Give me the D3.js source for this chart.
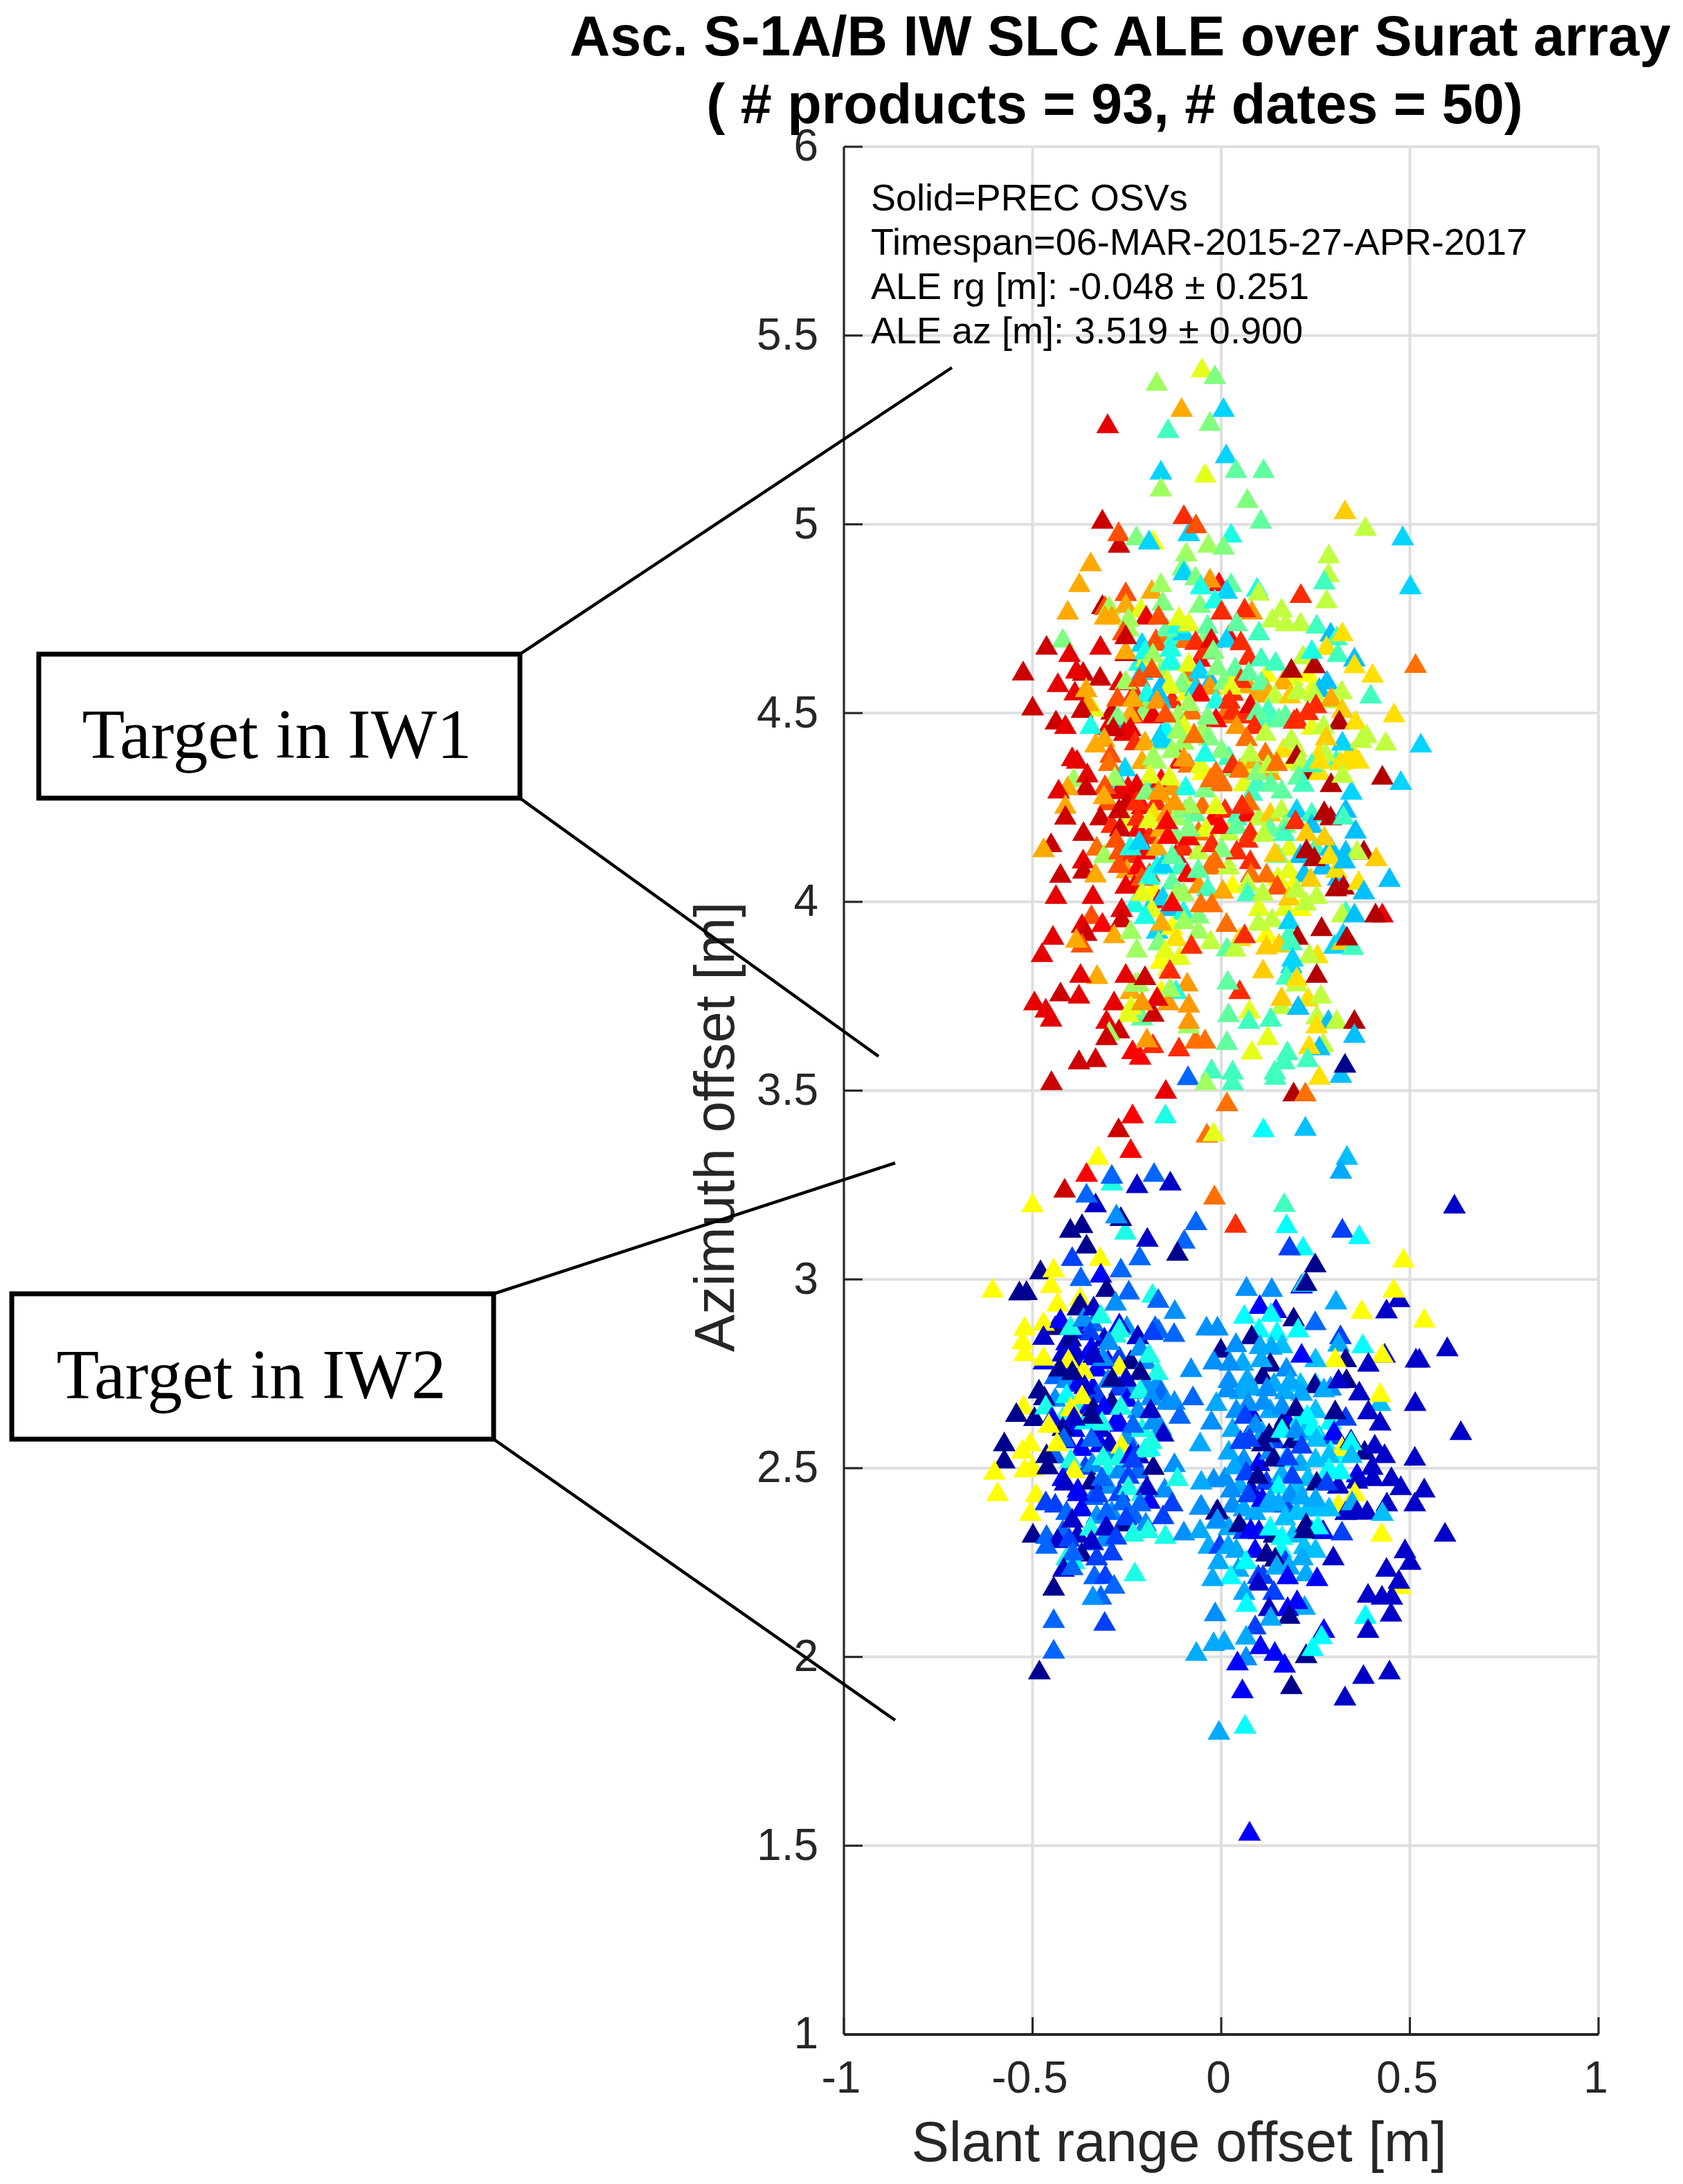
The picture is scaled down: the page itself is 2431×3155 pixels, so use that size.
<!DOCTYPE html>
<html>
<head>
<meta charset="utf-8">
<script src="https://cdn.jsdelivr.net/npm/d3@7"></script>
<style>
  html, body { margin: 0; background: #fff; }
  text { font-family: "Liberation Sans", Arial, sans-serif; }
</style>
</head>
<body>
<svg id="chart" width="2431" height="3155"></svg>
<script>
const xTicks = [-1, -0.5, 0, 0.5, 1];
const yTicks = [1, 1.5, 2, 2.5, 3, 3.5, 4, 4.5, 5, 5.5, 6];
const titleLines = ["Asc. S-1A/B IW SLC ALE over Surat array", "( # products = 93, # dates = 50)"];
const noteLines = ["Solid=PREC OSVs", "Timespan=06-MAR-2015-27-APR-2017", "ALE rg [m]: -0.048 ± 0.251", "ALE az [m]: 3.519 ± 0.900"];

// jet bins, low to high
const jetBins = ["#00008f", "#0000c8", "#0000ff", "#0040ff", "#0066ff", "#0090ff", "#00aaff", "#00c0ff", "#00d4ff", "#00ffff",
  "#1affe5", "#40ffbf", "#60ffa0", "#80ff80", "#a0ff60", "#c0ff40", "#e5ff1a", "#ffff00", "#ffe000", "#ffcc00",
  "#ffaa00", "#ff9900", "#ff7000", "#ff5000", "#ff2a00", "#ff0000", "#e60000", "#cc0000", "#b30000"];

// partly hidden marks in the dense parts, drawn first
// [slant range, azimuth, colour bin]
const iw1Core = [
  [-.173,4.69,23],[-.155,4.7,22],[-.13,4.69,11],[-.094,4.69,22],[-.101,4.71,8],[-.144,4.72,12],[-.21,4.68,8],[.02,4.7,25],[.1,4.71,11],[-.04,4.7,13],
  [-.217,4.63,10],[-.199,4.64,16],[-.159,4.61,14],[-.137,4.63,11],[-.057,4.64,25],[-.043,4.66,24],[-.086,4.6,22],[.03,4.6,17],[.12,4.6,17],[.19,4.59,16],
  [-.144,4.58,16],[-.159,4.57,7],[-.101,4.58,14],[-.028,4.58,7],[.03,4.55,24],[.073,4.57,20],[.095,4.55,20],[.12,4.56,20],[.164,4.58,20],[.24,4.56,16],
  [.28,4.58,7],[.23,4.6,17],[-.23,4.55,24],[-.21,4.52,24],[-.2,4.51,13],[-.187,4.5,14],[-.13,4.53,24],[-.09,4.55,17],[-.07,4.56,15],[-.16,4.53,8],
  [-.181,4.49,26],[-.159,4.44,8],[-.145,4.45,9],[-.115,4.49,14],[-.234,4.49,24],[-.27,4.46,8],[-.29,4.5,27],[-.3,4.46,26],[-.079,4.5,22],[.008,4.49,22],
  [-.014,4.48,25],[.03,4.5,24],[.062,4.49,24],[.1,4.48,11],[.13,4.48,11],[.17,4.49,12],[.2,4.48,24],[.24,4.46,16],[.3,4.53,15],[.26,4.56,7],
  [-.072,4.44,22],[-.05,4.45,14],[-.1,4.42,14],[-.159,4.42,14],[-.11,4.37,25],[-.086,4.36,22],[-.05,4.34,17],[-.014,4.34,22],[0,4.31,22],[.02,4.38,11],
  [.037,4.35,13],[.06,4.35,16],[.095,4.31,11],[.06,4.31,16],[.13,4.34,20],[.19,4.37,16],[.225,4.34,28],[.26,4.34,18],[.305,4.37,11],[.347,4.39,18],
  [.33,4.37,18],[.26,4.39,18],[.2,4.4,15],[.165,4.4,18],[.117,4.39,22],[.088,4.37,20],[-.255,4.35,8],[-.276,4.32,8],[-.247,4.3,25],[-.232,4.29,25],
  [-.188,4.31,8],[-.159,4.32,25],[-.159,4.28,20],[-.13,4.3,21],[-.094,4.3,10],[-.21,4.25,25],[-.173,4.26,24],[-.27,4.29,26],[-.25,4.26,27],[-.3,4.26,23],
  [-.18,4.23,18],[-.145,4.23,21],[-.12,4.22,14],[-.095,4.24,13],[-.07,4.23,12],[-.05,4.25,22],[-.02,4.22,25],[.01,4.24,24],[.04,4.22,11],[.07,4.23,25],
  [.1,4.22,15],[.13,4.23,19],[.16,4.24,15],[.2,4.24,8],[.24,4.23,11],[.29,4.22,28],[.33,4.24,7],[.24,4.2,7],[.17,4.2,13],[.13,4.19,12],
  [-.32,4.22,27],[-.29,4.2,24],[-.25,4.21,16],[-.22,4.19,25],[-.19,4.17,24],[-.16,4.19,20],[-.12,4.17,13],[-.06,4.18,22],[-.04,4.19,16],[.02,4.18,15],
  [-.33,4.14,22],[-.31,4.12,14],[-.27,4.13,23],[-.24,4.12,24],[-.2,4.13,25],[-.17,4.14,20],[-.12,4.12,25],[-.1,4.14,24],[-.06,4.13,15],[.18,4.14,16],
  [.15,4.12,13],[.21,4.12,7],[.25,4.14,11],[.29,4.14,7],[.33,4.13,7],[-.25,4.08,20],[-.22,4.09,25],[-.19,4.07,23],[-.17,4.09,10],[-.11,4.09,11],
  [-.09,4.07,25],[-.03,4.09,22],[.02,4.09,15],[.18,4.08,16],[.22,4.07,7],[.27,4.09,7],[.31,4.06,7],[-.23,4.04,25],[-.18,4.03,17],[-.13,4.05,12],
  [-.1,4.02,14],[-.06,4.04,21],[.03,4.04,17],[.15,4.06,16],[.19,4.04,17],[-.23,3.99,10],[-.19,3.98,8],[-.165,4,25],[-.14,3.98,7],[-.1,3.97,10],
  [-.06,3.96,13],[.1,3.98,16],[.17,3.98,16],[.21,3.98,17],[.33,3.97,11],[-.17,3.92,8],[-.13,3.93,17],[-.12,3.9,18],[-.06,3.92,14],[.12,3.91,17],
  [.05,3.9,18],[.18,3.91,11],[.3,3.88,8],[.32,3.89,19],[-.16,3.84,17],[-.14,3.82,16],[-.11,3.85,16],[-.09,3.78,21],[-.16,3.76,17],[-.12,3.76,10],
  [-.14,3.73,21],[-.24,3.76,20],[-.22,3.78,14],[-.21,3.69,12],[-.18,3.7,27],[.2,3.78,15],[.23,3.74,18],[.16,3.72,15],[.27,3.62,15]
];
const iw2Core = [
  [-.44,2.87,0],[-.41,2.83,2],[-.37,2.86,2],[-.34,2.88,4],[-.31,2.84,1],[-.28,2.85,10],[-.25,2.87,5],[-.42,2.8,1],[-.39,2.78,0],[-.36,2.79,2],
  [-.33,2.76,2],[-.3,2.78,2],[-.27,2.79,3],[-.24,2.78,0],[-.2,2.78,5],[-.44,2.74,4],[-.41,2.73,5],[-.38,2.72,2],[-.34,2.71,2],[-.3,2.73,5],
  [-.27,2.71,3],[-.24,2.7,5],[-.2,2.72,5],[-.17,2.72,5],[-.44,2.68,5],[-.41,2.69,9],[-.38,2.67,10],[-.35,2.66,2],[-.33,2.69,3],[-.29,2.67,0],
  [-.25,2.68,2],[-.22,2.65,5],[-.42,2.63,10],[-.39,2.6,2],[-.36,2.62,9],[-.32,2.6,1],[-.28,2.62,2],[-.25,2.58,5],[-.21,2.6,10],[-.18,2.62,5],
  [-.41,2.57,2],[-.37,2.55,2],[-.32,2.56,2],[-.29,2.54,5],[-.26,2.53,10],[-.22,2.53,1],[-.19,2.55,9],[-.44,2.53,4],[-.4,2.5,4],[-.36,2.5,3],
  [-.3,2.49,10],[-.27,2.49,5],[-.22,2.49,4],[-.18,2.5,0],[-.42,2.47,2],[-.38,2.44,2],[-.34,2.42,4],[-.3,2.45,5],[-.27,2.43,3],[-.21,2.43,10],
  [-.19,2.41,2],[-.15,2.44,5],[-.44,2.4,3],[-.41,2.38,4],[-.37,2.39,2],[-.33,2.37,5],[-.29,2.38,5],[-.26,2.35,0],[-.23,2.37,4],[-.2,2.35,5],
  [-.42,2.33,4],[-.38,2.32,1],[-.34,2.3,3],[-.31,2.31,5],[-.37,2.27,0],[-.33,2.26,3],[-.41,2.26,10],[-.39,2.25,9],
  [.02,2.73,5],[.05,2.7,6],[.08,2.71,6],[.11,2.74,0],[.14,2.72,6],[.17,2.7,6],[.21,2.72,7],[.25,2.72,7],[.29,2.71,5],[.04,2.65,5],
  [.08,2.64,2],[.13,2.65,6],[.17,2.63,2],[.21,2.63,9],[.25,2.65,7],[.29,2.62,9],[.33,2.63,3],[.03,2.6,6],[.07,2.58,3],[.11,2.59,6],
  [.14,2.57,3],[.19,2.57,0],[.22,2.59,7],[.26,2.58,7],[.3,2.58,3],[.02,2.54,6],[.06,2.52,5],[.1,2.51,2],[.13,2.54,5],[.17,2.52,9],
  [.21,2.51,6],[.25,2.52,7],[.29,2.54,9],[.33,2.54,9],[.38,2.54,0],[.01,2.47,5],[.05,2.45,6],[.08,2.44,1],[.12,2.46,3],[.16,2.48,6],
  [.2,2.45,7],[.23,2.47,7],[.27,2.47,9],[.31,2.45,1],[.36,2.48,2],[.4,2.5,1],[.03,2.4,5],[.06,2.39,6],[.09,2.38,6],[.12,2.4,6],
  [.17,2.4,3],[.2,2.38,7],[.23,2.39,7],[.26,2.39,7],[.31,2.4,17],[.33,2.38,1],[.02,2.34,6],[.06,2.33,3],[.1,2.33,2],[.14,2.32,0],
  [.19,2.32,7],[.24,2.33,7],[.27,2.33,2],[.04,2.28,6],[.09,2.28,2],[.12,2.27,0],[.16,2.28,9],[.22,2.29,7],[.25,2.28,7],[.17,2.25,3]
];

const iw1Top = [
  [-.051,5.407,16],[-.017,5.389,13],[-.171,5.371,14],[-.105,5.302,20],[.006,5.302,8],[-.301,5.259,26],[-.141,5.246,11],[-.03,5.265,13],
  [.013,5.179,8],[-.16,5.136,8],[-.043,5.128,16],[.039,5.14,12],[.112,5.14,12],[-.16,5.091,14],[.069,5.061,13],[-.315,5.006,27],
  [-.086,4.973,8],[-.099,5.018,24],[-.067,4.994,23],[.328,5.031,19],[.105,5.006,12],[.382,4.987,15],[.481,4.962,8],[-.271,4.942,27],
  [-.272,4.973,23],[-.225,4.962,13],[-.18,4.951,17],[-.191,4.951,8],[.026,4.969,10],[-.034,4.942,14],[.006,4.937,13],[-.093,4.919,14],
  [.285,4.914,15],[-.346,4.893,20],[-.102,4.882,13],[-.099,4.869,8],[.284,4.864,15]
];
const iw1Upper = [
  [-.068,4.856,13],[.026,4.838,12],[-.006,4.84,25],[-.03,4.85,21],[-.376,4.838,20],[.273,4.845,11],[.501,4.832,8],[-.184,4.82,20],[-.16,4.838,14],
  [-.253,4.814,23],[-.054,4.832,10],[.095,4.826,10],[.014,4.82,8],[.099,4.815,15],[.211,4.809,24],[.279,4.795,15],[-.155,4.789,13],
  [-.407,4.765,20],[-.315,4.78,28],[-.308,4.777,23],[-.297,4.777,14],[-.253,4.783,20],[-.057,4.783,13],[-.017,4.795,10],[.001,4.765,24],
  [.081,4.765,21],[.062,4.771,24],[-.213,4.771,16],[-.199,4.752,26],[-.166,4.752,23],[-.308,4.752,20],[-.29,4.752,20],[-.246,4.746,14],
  [-.246,4.72,14],[-.115,4.728,10],[-.086,4.734,16],[-.112,4.749,16],[-.036,4.728,12],[.041,4.734,12],[.16,4.771,15],[.135,4.744,15],
  [.171,4.734,15],[.21,4.734,15],[.253,4.728,11],[.29,4.707,7],[.306,4.697,11],[.321,4.708,18],[.279,4.671,18],[.309,4.653,11],[.353,4.641,7],
  [.353,4.623,18],[.401,4.598,18],[.515,4.624,22],[.396,4.543,11],[-.42,4.691,13],[-.463,4.672,27],[-.32,4.672,26],[-.402,4.653,26],
  [-.525,4.604,27],[-.366,4.603,27],[-.384,4.609,26],[-.321,4.59,27],[-.433,4.573,26],[-.5,4.511,27],[-.388,4.551,26],[-.358,4.56,20],
  [-.34,4.508,16],[-.353,4.522,20],[-.369,4.505,27],[-.438,4.474,27],[-.413,4.462,26],[-.346,4.462,10],[-.253,4.655,27],[-.253,4.66,20],
  [-.26,4.71,23],[-.253,4.7,27],[-.173,4.682,23],[-.202,4.66,10],[-.181,4.652,14],[-.134,4.667,10],[-.134,4.636,10],[-.068,4.685,24],
  [-.026,4.691,26],[.014,4.691,8],[.052,4.684,24],[-.021,4.661,13],[-.086,4.627,16],[.073,4.645,24],[.106,4.641,11],[.144,4.63,11],
  [-.057,4.609,8],[-.01,4.618,13],[.037,4.615,12],[.217,4.647,15],[.247,4.623,28],[.186,4.611,28],[.24,4.661,10],[-.21,4.605,8],[-.184,4.611,23],
  [-.268,4.578,26],[-.253,4.58,14],[-.217,4.587,23],[-.106,4.572,13],[-.068,4.562,8],[-.03,4.566,21],[.008,4.58,13],[.052,4.584,24],
  [.073,4.603,12],[.106,4.578,12],[.026,4.566,16],[-.197,4.548,10],[-.137,4.569,16],[-.166,4.548,7],[-.17,4.529,21],[-.275,4.535,23],
  [-.234,4.534,20],[-.057,4.548,25],[-.086,4.523,14],[-.014,4.529,10],[.022,4.529,24],[-.148,4.493,23],[-.241,4.493,20],[-.275,4.487,13],
  [-.036,4.487,13],[.124,4.545,20],[.142,4.543,15],[.182,4.543,19],[.204,4.554,15],[.247,4.548,15],[.319,4.554,15],[.291,4.535,20],
  [.251,4.517,24],[.229,4.499,24],[.321,4.505,19],[.458,4.493,18],[.077,4.517,26],[.124,4.505,11],[.095,4.499,12],[.153,4.48,12],
  [.313,4.474,28],[.356,4.474,18],[.271,4.462,15],[.385,4.438,15],[.436,4.418,15],[.529,4.413,8],[.321,4.418,8],[.371,4.425,15],[.278,4.432,19],
  [.088,4.462,24],[.041,4.462,21],[.067,4.43,22],[.186,4.427,15],[.117,4.444,15],[.193,4.476,24],[-.099,4.462,16],[-.115,4.45,14],
  [-.032,4.432,13],[.001,4.398,13],[-.159,4.425,8],[-.257,4.444,26],[-.241,4.456,26],[-.286,4.456,27],[-.31,4.428,20],[-.333,4.413,20],
  [-.072,4.438,22],[-.228,4.419,24],[-.202,4.419,20],[-.395,4.377,26],[-.382,4.37,26],[-.293,4.386,23],[-.297,4.364,22],[-.21,4.369,20],
  [-.181,4.38,14],[-.13,4.398,14],[-.173,4.37,14],[-.099,4.376,21],[-.054,4.358,16],[-.043,4.389,10],[.03,4.358,24],[.05,4.346,22],
  [.077,4.389,15],[.095,4.34,13],[.124,4.358,15],[.147,4.364,22],[.2,4.383,28],[.211,4.364,15],[.24,4.361,11],[.276,4.389,15],[.262,4.37,18],
  [.316,4.366,18],[.364,4.37,18],[.427,4.328,28],[.476,4.314,8],[.345,4.288,8],[.291,4.308,28],[.322,4.333,15],[.131,4.309,12],[.16,4.291,12],
  [.081,4.285,11],[.204,4.328,12],[.218,4.309,11],[-.043,4.294,13],[.001,4.315,22],[-.028,4.321,22],[-.137,4.326,16],[-.188,4.331,16],
  [-.224,4.306,26],[-.282,4.325,14],[-.308,4.303,23],[-.391,4.321,14],[-.355,4.334,26],[-.358,4.3,27],[-.407,4.3,20],[-.431,4.291,26],
  [-.413,4.251,20],[-.311,4.276,20],[-.271,4.239,27],[-.224,4.26,24],[-.199,4.288,13],[-.166,4.288,21],[-.083,4.251,14],[-.123,4.26,21],
  [.073,4.26,22],[.055,4.251,24],[-.014,4.25,16]
];
const iw1Lower = [
  [-.413,4.222,27],[-.365,4.179,27],[-.451,4.149,27],[-.471,4.136,20],[-.426,4.068,27],[-.366,4.106,26],[-.365,4.079,27],[-.333,4.069,20],
  [-.438,4.012,26],[-.34,4.012,26],[-.271,4.24,27],[-.268,4.191,27],[-.279,4.161,23],[-.241,4.141,10],[-.217,4.155,8],[-.221,4.219,24],
  [-.191,4.213,16],[-.144,4.21,25],[-.141,4.171,25],[-.086,4.167,25],[-.086,4.191,13],[-.001,4.197,25],[.041,4.197,12],[.077,4.179,24],
  [-.025,4.149,24],[.069,4.161,24],[.041,4.13,24],[.077,4.104,24],[.001,4.136,13],[-.017,4.106,22],[.113,4.176,15],[.167,4.179,11],
  [.197,4.21,24],[.226,4.179,19],[.273,4.234,28],[.324,4.222,11],[.356,4.185,7],[.273,4.167,19],[.142,4.124,19],[.226,4.133,28],
  [.247,4.112,28],[.287,4.118,18],[.305,4.081,18],[.378,4.13,28],[.36,4.13,15],[.411,4.112,19],[.327,4.106,7],[.446,4.057,7],[.237,4.057,19],
  [.304,4.032,28],[.324,4.037,28],[.364,4.049,18],[.378,4.024,7],[.12,4.069,22],[.079,4.069,22],[.149,4.037,23],[.07,4.045,15],[.07,4.019,11],
  [.11,4.02,15],[.18,4.008,19],[.2,4.029,15],[.224,3.994,15],[.253,4.012,15],[.32,3.963,15],[.353,3.963,7],[.427,3.963,26],[.409,3.963,28],
  [-.271,4.094,23],[-.253,4.039,26],[-.21,4.06,23],[-.191,4.063,10],[-.155,4.094,8],[-.13,4.118,12],[-.061,4.081,12],[-.036,4.032,11],
  [.004,4.026,20],[-.21,4.02,16],[-.155,4.008,8],[-.119,4.018,14],[-.054,3.99,22],[-.025,3.99,22],[-.13,3.993,25],[-.184,3.976,16],
  [-.099,3.945,14],[-.159,3.941,20],[-.202,3.959,10],[-.264,3.977,26],[-.264,3.95,27],[-.344,3.959,23],[-.315,3.938,25],[-.369,3.935,26],
  [-.358,3.914,27],[-.446,3.904,26],[-.369,3.883,23],[-.384,3.896,20],[-.475,3.858,26],[-.284,3.908,20],[-.24,3.919,14],[-.224,3.87,14],
  [-.166,3.889,13],[-.148,3.867,16],[-.079,3.88,24],[-.028,3.892,15],[.015,3.873,12],[.037,3.872,15],[.014,3.938,22],[.062,3.908,24],
  [.099,3.941,15],[.135,3.95,15],[.18,3.945,8],[.202,3.904,28],[.266,3.927,28],[.323,3.91,8],[.349,3.877,11],[.333,3.902,28],[.12,3.878,19],
  [.153,3.883,19],[.186,3.889,11],[.255,3.855,18],[.233,3.855,15],[.189,3.846,8],[.111,3.815,19],[.186,3.828,8],[.173,3.798,11],[.2,3.794,18],
  [.253,3.803,28],[.264,3.748,15],[.16,3.742,19],[.204,3.718,7],[.253,3.693,15],[.284,3.681,7],[.306,3.681,15],[.353,3.681,28],[.353,3.644,7],
  [.253,3.669,18],[.26,3.611,7],[.233,3.614,18],[.229,3.58,11],[.175,3.598,11],[.167,3.574,11],[.081,3.6,16],[.123,3.638,16],[.019,3.699,12],
  [.075,3.708,16],[.073,3.681,11],[.131,3.687,11],[.049,3.76,24],[.017,3.785,12],[.015,3.625,12],[-.043,3.629,22],[-.068,3.629,22],
  [-.086,3.724,21],[-.086,3.669,14],[-.086,3.681,21],[-.136,3.814,24],[-.136,3.766,14],[-.228,3.779,14],[-.329,3.8,20],[-.373,3.803,26],
  [-.426,3.754,27],[-.377,3.748,26],[-.495,3.73,26],[-.465,3.711,26],[-.451,3.687,26],[-.202,3.797,27],[-.253,3.803,26],[-.284,3.73,26],
  [-.239,3.718,16],[-.246,3.699,16],[-.17,3.742,26],[-.21,3.73,21],[-.304,3.681,26],[-.271,3.656,27],[-.297,3.65,14],[-.304,3.638,27],
  [-.235,3.601,25],[-.215,3.586,25],[-.181,3.617,24],[-.197,3.632,21],[-.112,3.608,24],[-.377,3.574,27],[-.333,3.58,27],[-.025,3.55,12],
  [.03,3.547,11],[.142,3.547,11],[-.45,3.519,27],[-.088,3.532,4],[-.026,3.55,11],[-.041,3.519,14],[.03,3.519,11],[.143,3.533,11],[.26,3.533,18],
  [.317,3.538,7],[.328,3.565,0],[-.147,3.496,26],[.192,3.489,28],[.223,3.489,22],[.015,3.463,22],[-.235,3.431,25],[-.148,3.431,10],
  [.112,3.394,9],[-.272,3.394,27],[-.038,3.38,22],[-.02,3.383,16],[.223,3.398,7]
];
const iw2Top = [
  [.333,3.321,7],[.317,3.284,6],[-.24,3.339,25],[-.327,3.321,17],[-.357,3.276,25],[-.29,3.253,10],[-.29,3.271,4],[-.223,3.246,1],[-.178,3.276,4],
  [-.135,3.253,1],[-.415,3.234,27],[-.333,3.195,1],[-.357,3.221,4],[-.5,3.195,17],[-.018,3.216,22],[.167,3.196,11],[.173,3.14,9],[.038,3.141,24],
  [.618,3.192,1],[-.254,3.123,10],[-.266,3.159,0],[-.278,3.166,5],[-.4,3.128,0],[-.369,3.14,0],[-.067,3.148,4],[-.196,3.104,1],[-.098,3.099,4],
  [.321,3.128,3],[.366,3.111,9],[.217,3.081,9],[.181,3.081,3],[-.357,3.086,0],[-.116,3.067,0],[.249,3.036,0],[.483,3.049,17],[-.395,3.053,3],
  [-.321,3.053,17],[-.216,3.055,4],[-.479,3.018,0],[-.444,3.023,17],[-.372,3,4],[-.319,3.009,2],[-.266,3.023,4],[.213,2.98,2],[.218,2.985,9],[.225,2.987,0],
  [.067,2.974,5],[.134,2.971,5],[-.606,2.969,17],[-.535,2.962,0],[-.516,2.963,0],[-.451,2.981,17],[-.434,2.932,17],[-.304,2.971,0],[-.245,2.964,4],
  [-.182,2.956,10],[-.167,2.942,4],[-.123,2.913,5],[.471,2.944,1],[.457,2.969,17],[.438,2.914,1],[.372,2.913,17],[.304,2.938,6],[.538,2.89,17],
  [.102,2.926,2],[.061,2.9,9],[.145,2.915,2],[.132,2.905,9],[.192,2.893,0],[.249,2.883,4]
];
const iw2Left = [
  [-.521,2.869,17],[-.471,2.881,17],[-.526,2.832,17],[-.521,2.801,17],[-.471,2.844,1],[-.47,2.779,2],[-.471,2.789,17],[-.426,2.889,2],[-.374,2.947,17],
  [-.374,2.93,0],[-.38,2.922,0],[-.399,2.84,0],[-.399,2.87,10],[-.365,2.892,5],[-.338,2.922,1],[-.319,2.901,10],[-.347,2.856,3],[-.28,2.935,5],
  [-.27,2.877,2],[-.27,2.864,10],[-.298,2.831,5],[-.344,2.815,2],[-.39,2.81,1],[-.221,2.846,1],[-.215,2.815,5],[-.191,2.797,10],[-.169,2.751,10],
  [-.166,2.862,4],[-.175,2.87,4],[-.182,2.857,3],[-.125,2.852,4],[-.039,2.869,5],[-.01,2.869,5],[-.001,2.81,0],[-.08,2.759,5],[-.27,2.765,17],
  [-.405,2.782,17],[-.365,2.754,17],[-.429,2.76,0],[-.395,2.751,0],[-.313,2.788,5],[-.338,2.797,1],[-.215,2.751,0],[-.252,2.733,1],[-.289,2.733,0],
  [-.362,2.714,1],[-.483,2.702,0],[-.469,2.684,0],[-.524,2.66,17],[-.543,2.64,0],[-.495,2.629,0],[-.465,2.66,10],[-.215,2.702,10],[-.16,2.696,4],
  [-.124,2.672,5],[-.185,2.684,5],[-.143,2.672,5],[-.075,2.684,4],[-.11,2.635,4],[-.369,2.687,17],[-.399,2.655,17],[-.339,2.655,0],[-.31,2.659,2],
  [-.266,2.659,10],[-.187,2.65,1],[-.449,2.629,2],[-.42,2.603,0],[-.39,2.63,1],[-.267,2.614,2],[-.234,2.611,4],[-.316,2.617,10],[-.342,2.635,0],
  [-.16,2.604,5],[-.457,2.611,17],[-.154,2.588,1],[-.185,2.568,10],[-.417,2.574,4],[-.344,2.574,4],[-.295,2.562,1],[-.264,2.556,17],[-.234,2.543,3],
  [-.203,2.546,10],[-.575,2.562,0],[-.506,2.562,17],[-.527,2.543,17],[-.575,2.517,0],[-.521,2.493,17],[-.5,2.498,17],[-.463,2.531,0],[-.46,2.501,0],
  [-.435,2.562,17],[-.399,2.518,10],[-.341,2.507,5],[-.313,2.525,10],[-.27,2.525,10],[-.24,2.53,2],[-.234,2.519,3],[-.124,2.507,5],[-.601,2.487,17],
  [-.116,2.47,10],[-.39,2.491,17],[-.414,2.458,1],[-.344,2.461,0],[-.246,2.476,3],[-.246,2.446,10],[-.197,2.446,1],[-.316,2.47,4],[-.593,2.43,17],
  [-.491,2.427,17],[-.465,2.406,3],[-.13,2.403,3],[-.056,2.394,5],[-.013,2.381,0],[-.013,2.357,6],[-.38,2.43,2],[-.328,2.427,3],[-.261,2.406,4],
  [-.215,2.403,4],[-.304,2.381,4],[-.395,2.36,1],[-.506,2.378,17],[-.252,2.366,3],[-.154,2.369,3],[-.346,2.339,10],[-.194,2.332,10],[-.234,2.323,10],
  [-.148,2.317,10],[-.099,2.326,5],[-.056,2.332,6],[-.499,2.32,0],[-.307,2.339,2],[-.463,2.317,4]
];
const iw2Right = [
  [.204,2.864,9],[.148,2.855,9],[.1,2.864,9],[.081,2.846,0],[.039,2.825,5],[.316,2.846,3],[.311,2.826,6],[.375,2.822,9],[.433,2.797,2],[.427,2.797,17],
  [.39,2.773,1],[.33,2.785,0],[.302,2.785,17],[.516,2.784,1],[.525,2.784,1],[.599,2.814,1],[.161,2.822,7],[.25,2.785,7],[.213,2.797,2],[.133,2.818,6],
  [.103,2.82,6],[.057,2.776,6],[.023,2.776,5],[-.02,2.779,5],[.13,2.773,0],[.106,2.785,6],[.173,2.76,5],[.069,2.733,6],[.182,2.727,6],[.248,2.716,0],
  [.272,2.705,6],[.332,2.73,0],[.311,2.729,1],[.366,2.697,1],[.421,2.669,7],[.421,2.693,17],[.39,2.647,1],[.514,2.669,1],[.421,2.617,1],[.635,2.592,1],
  [.302,2.647,0],[.299,2.592,2],[.017,2.705,5],[-.013,2.669,6],[-.026,2.62,5],[.121,2.708,5],[.213,2.696,6],[.072,2.669,5],[.112,2.672,5],[.161,2.66,5],
  [.198,2.655,0],[.228,2.635,9],[.242,2.604,9],[.063,2.635,3],[.091,2.611,5],[.161,2.611,0],[.127,2.586,0],[.109,2.562,0],[.051,2.568,3],[.075,2.574,3],
  [.161,2.598,9],[.198,2.598,5],[.253,2.574,7],[.32,2.55,17],[.344,2.57,0],[.344,2.565,9],[.407,2.556,1],[.513,2.524,1],[.433,2.531,1],[-.056,2.562,6],
  [.139,2.522,0],[.176,2.525,3],[.213,2.556,3],[.286,2.531,7],[.345,2.531,7],[.035,2.501,6],[.066,2.485,3],[.097,2.476,0],[.188,2.476,3],[.286,2.494,9],
  [.316,2.488,9],[.152,2.449,9],[-.02,2.467,5],[-.053,2.461,6],[.026,2.44,5],[.451,2.47,1],[.36,2.463,1],[.402,2.47,1],[.476,2.446,1],[.538,2.44,1],
  [.253,2.458,0],[.28,2.458,3],[.354,2.43,17],[.347,2.406,6],[.387,2.381,1],[.36,2.381,1],[.513,2.403,1],[.439,2.403,1],[.427,2.378,7],[-.053,2.397,5],
  [.072,2.427,3],[.109,2.415,2],[.182,2.427,5],[.213,2.421,6],[.25,2.415,6],[.286,2.39,7],[.152,2.403,6],[.13,2.415,6],[.225,2.348,0],[.256,2.342,9],
  [.169,2.366,7],[-.01,2.385,0],[-.01,2.36,5],[.048,2.348,0],[.078,2.333,2],[.13,2.339,9],[.222,2.332,0],[.32,2.326,3],[.425,2.323,17],[.593,2.323,1],[.161,2.314,9]
];
const iw2Bottom = [
  [-.434,2.306,1],[-.463,2.291,4],[-.403,2.309,3],[-.303,2.34,1],[-.279,2.315,3],[-.344,2.303,1],[-.29,2.273,3],[-.393,2.273,4],[-.418,2.23,1],[-.395,2.234,4],
  [-.336,2.21,4],[-.307,2.211,3],[-.284,2.185,4],[-.444,2.18,0],[-.229,2.218,10],[-.319,2.156,4],[-.34,2.155,5],[-.444,2.094,4],[-.309,2.087,3],[-.444,2.013,4],
  [-.482,1.958,0],[-.033,2.291,6],[-.004,2.291,3],[.019,2.291,6],[-.007,2.25,6],[.045,2.23,6],[.066,2.25,9],[.025,2.21,9],[-.023,2.205,6],[.143,2.257,0],
  [.098,2.211,3],[.111,2.211,3],[.147,2.236,6],[.18,2.236,6],[.215,2.26,6],[.297,2.26,1],[.225,2.218,6],[.254,2.205,2],[.176,2.21,2],[.098,2.193,1],
  [.061,2.169,6],[.139,2.169,3],[.221,2.129,6],[.201,2.144,2],[.176,2.126,2],[.18,2.105,0],[.127,2.126,1],[.067,2.137,9],[.131,2.1,6],[.09,2.077,3],
  [-.016,2.112,5],[.389,2.161,1],[.475,2.184,17],[.426,2.156,1],[.452,2.156,1],[.45,2.111,1],[.382,2.105,9],[.389,2.068,1],[.438,2.23,1],[.471,2.198,1],
  [.487,2.279,1],[.501,2.248,1],[.272,2.068,2],[.266,2.051,9],[.225,2.001,0],[.242,2.02,9],[.066,2.05,6],[-.02,2.033,6],[.008,2.037,6],[-.066,2.007,6],
  [.066,1.995,5],[.104,2.025,2],[.142,2.007,2],[.043,1.982,2],[.168,1.976,2],[.377,1.946,1],[.446,1.958,1],[.186,1.919,0],[.056,1.908,2],[.328,1.889,1],
  [-.006,1.798,6],[.063,1.814,9],[.075,1.531,2]
];

const allPoints = [...iw1Core, ...iw2Core, ...iw1Top, ...iw1Upper, ...iw1Lower, ...iw2Top, ...iw2Left, ...iw2Right, ...iw2Bottom];

const svg = d3.select("#chart");
const ink = "#262626";
const gridColor = "#dfdfdf";

let x = d3.scaleLinear().domain([-1, 1]).range([1219, 2309]);
let y = d3.scaleLinear().domain([1, 6]).range([2939, 212]);

// grid
svg.append("g")
  .attr("transform", "translate(0,2939)")
  .call(d3.axisBottom(x).tickValues(xTicks).tickSize(-2727).tickFormat("").offset(0))
  .call((g) => g.select(".domain").remove())
  .call((g) => g.selectAll("line").attr("stroke", gridColor).attr("stroke-width", 4));
svg.append("g")
  .attr("transform", "translate(1219,0)")
  .call(d3.axisLeft(y).tickValues(yTicks).tickSize(-1090).tickFormat("").offset(0))
  .call((g) => g.select(".domain").remove())
  .call((g) => g.selectAll("line").attr("stroke", gridColor).attr("stroke-width", 4));

// points
let triangle = d3.symbol().type(d3.symbolTriangle).size(470);
svg.append("g")
  .selectAll("path")
  .data(allPoints)
  .join("path")
  .attr("d", triangle)
  .attr("transform", (d) => `translate(${x(d[0])},${y(d[1])})`)
  .attr("fill", (d) => jetBins[d[2]]);

// axes
let xAxis = svg.append("g")
  .attr("transform", "translate(0,2939)")
  .call(d3.axisBottom(x).tickValues(xTicks).tickSize(-25).tickSizeOuter(0).tickPadding(39).tickFormat((d) => String(d)).offset(0));
let yAxis = svg.append("g")
  .attr("transform", "translate(1219,0)")
  .call(d3.axisLeft(y).tickValues(yTicks).tickSize(-27).tickSizeOuter(0).tickPadding(37).tickFormat((d) => String(d)).offset(0));
xAxis.select(".domain").attr("stroke", ink).attr("stroke-width", 4);
yAxis.select(".domain").attr("stroke", ink).attr("stroke-width", 3);
[xAxis, yAxis].forEach((axis) => {
  axis.selectAll("line").attr("stroke", ink).attr("stroke-width", 3);
  axis.selectAll("text").attr("fill", ink).style("font-size", "64px").style("font-family", '"Liberation Sans"');
});
xAxis.selectAll("text").attr("dx", -4);

// axis labels
svg.append("text").attr("x", 1703).attr("y", 3122).attr("text-anchor", "middle")
  .attr("font-size", 81.5).attr("fill", ink).text("Slant range offset [m]");
svg.append("text").attr("transform", "translate(1060,1628) rotate(-90)").attr("text-anchor", "middle")
  .attr("font-size", 81.5).attr("fill", ink).text("Azimuth offset [m]");

// title
const titleAt = [[1618, 80], [1610, 178]];
svg.selectAll(".title").data(titleLines).join("text").attr("class", "title")
  .attr("x", (d, i) => titleAt[i][0]).attr("y", (d, i) => titleAt[i][1])
  .attr("text-anchor", "middle").attr("font-size", 81).attr("font-weight", "bold").attr("fill", "#000")
  .text((d) => d);

// stats note
svg.selectAll(".note").data(noteLines).join("text").attr("class", "note")
  .attr("x", 1258).attr("y", (d, i) => 304 + i * 64)
  .attr("font-size", 54).attr("fill", "#000")
  .text((d) => d);

// callout boxes
function callout(label, bx, by, bw, bh, endTop, endBottom, textX) {
  let g = svg.append("g");
  g.append("rect").attr("x", bx).attr("y", by).attr("width", bw).attr("height", bh)
    .attr("fill", "#fff").attr("stroke", "#000").attr("stroke-width", 7);
  g.append("line").attr("x1", bx + bw).attr("y1", by).attr("x2", endTop[0]).attr("y2", endTop[1])
    .attr("stroke", "#000").attr("stroke-width", 4.5);
  g.append("line").attr("x1", bx + bw).attr("y1", by + bh).attr("x2", endBottom[0]).attr("y2", endBottom[1])
    .attr("stroke", "#000").attr("stroke-width", 4.5);
  g.append("text").attr("x", textX).attr("y", by + bh / 2 + 46).attr("text-anchor", "middle")
    .style("font-family", '"Liberation Serif"').attr("font-size", 101).attr("fill", "#000").text(label);
}
callout("Target in IW1", 56, 945, 695, 208, [1375, 531], [1269, 1526], 400);
callout("Target in IW2", 17, 1869, 696, 210, [1293, 1680], [1293, 2485], 363);
</script>
</body>
</html>
